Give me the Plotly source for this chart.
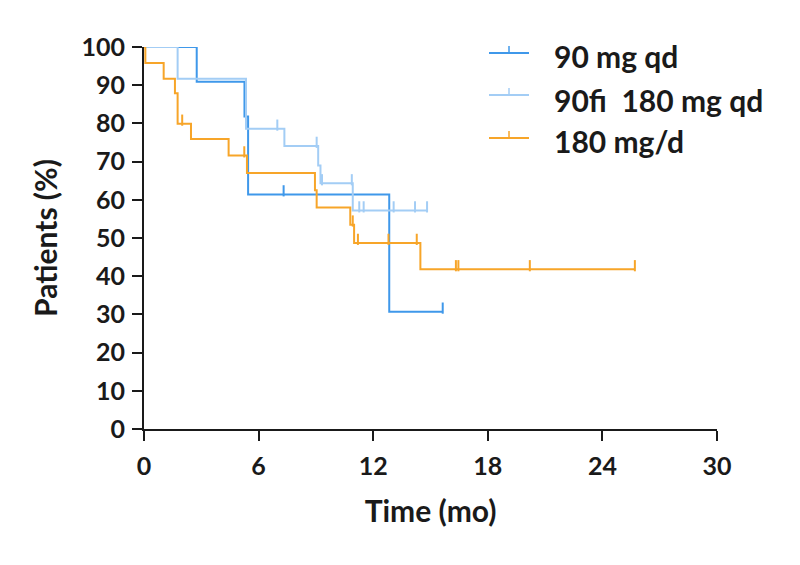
import plotly.graph_objects as go

# ---- data ----
series_names = ["90 mg qd", "90\ufb01  180 mg qd", "180 mg/d"]

t_90 = [0, 2.76, 5.26, 5.45, 12.84, 15.64]
s_90 = [100, 90.9, 81.8, 61.4, 30.7, 30.7]
c_90 = [0.72, 0.92, 1.58, 1.80, 7.31, 15.64]

t_90_180 = [0, 1.76, 5.34, 7.35, 9.12, 9.24, 10.93, 14.82]
s_90_180 = [100, 91.7, 78.6, 74.1, 69.0, 64.3, 57.2, 57.2]
c_90_180 = [6.98, 9.04, 9.32, 10.88, 11.27, 11.50, 13.07, 14.19, 14.82]

t_180 = [0, 0.07, 1.03, 1.62, 1.76, 2.46, 4.43, 5.39, 8.95, 9.04, 10.80, 11.00, 14.47, 25.70]
s_180 = [100, 95.8, 91.7, 87.9, 79.9, 75.9, 71.6, 67.0, 62.5, 58.0, 53.5, 48.7, 41.8, 41.8]
c_180 = [2.00, 5.25, 10.93, 11.20, 12.80, 14.28, 16.33, 16.46, 20.20, 25.70]

x_ticks = [0, 6, 12, 18, 24, 30]
y_ticks = [0, 10, 20, 30, 40, 50, 60, 70, 80, 90, 100]

colors = ["#3f98ea", "#a3cdf5", "#f7a529"]
FONT = "Lato"
TXT = "#1a1a1a"

# page offset of the figure inside the browser page (body margin)
OFF_X, OFF_Y = 7, 8
W, H = 800, 565
ML, MT = 143 - OFF_X, 47 - OFF_Y
PW, PH = 573, 382
MR, MB = W - ML - PW, H - MT - PH


def step_value(ts, ss, t):
    v = ss[0]
    for ti, si in zip(ts, ss):
        if ti <= t:
            v = si
    return v


def page_x(px):
    return (px - OFF_X - ML) / PW


def page_y(py):
    return (MT + PH - (py - OFF_Y)) / PH


fig = go.Figure()
TICK_OFF = 0.95  # lift censor ticks so they stand above the line

series = [
    (series_names[0], t_90, s_90, c_90, colors[0]),
    (series_names[1], t_90_180, s_90_180, c_90_180, colors[1]),
    (series_names[2], t_180, s_180, c_180, colors[2]),
]

for name, ts, ss, cs, col in series:
    fig.add_trace(go.Scatter(
        x=ts, y=ss, mode="lines", line=dict(color=col, width=2, shape="hv"),
        name=name, showlegend=False, cliponaxis=False, hoverinfo="skip"))
    fig.add_trace(go.Scatter(
        x=cs, y=[step_value(ts, ss, c) + TICK_OFF for c in cs], mode="markers",
        marker=dict(symbol="line-ns", size=8, line=dict(color=col, width=2)),
        showlegend=False, cliponaxis=False, hoverinfo="skip"))

# ---- hand-drawn legend (line sample + censor tick + label) ----
legend_line_y = [53, 95, 138]
legend_text_y = [56, 100, 141]
shapes = []
annotations = []
for (name, ts, ss, cs, col), ly, ty in zip(series, legend_line_y, legend_text_y):
    shapes.append(dict(type="line", xref="paper", yref="paper",
                       x0=page_x(488), x1=page_x(528),
                       y0=page_y(ly), y1=page_y(ly),
                       line=dict(color=col, width=2)))
    shapes.append(dict(type="line", xref="paper", yref="paper",
                       x0=page_x(508), x1=page_x(508),
                       y0=page_y(ly), y1=page_y(ly - 7),
                       line=dict(color=col, width=1.5)))
    annotations.append(dict(text=name, xref="paper", yref="paper",
                            x=page_x(551), y=page_y(ty),
                            xanchor="left", yanchor="middle", showarrow=False,
                            font=dict(family=FONT, size=30, color=TXT, weight="bold")))

fig.update_layout(
    width=W, height=H,
    margin=dict(l=ML, r=MR, t=MT, b=MB, autoexpand=False),
    paper_bgcolor="white", plot_bgcolor="white",
    font=dict(family=FONT, size=22, color=TXT),
    showlegend=False,
    shapes=shapes, annotations=annotations,
    xaxis=dict(range=[0, 30], tickvals=x_ticks, ticktext=[str(v) for v in x_ticks],
               showgrid=False, zeroline=False, showline=True, linecolor=TXT,
               linewidth=2, ticks="outside", ticklen=10, tickwidth=1.5,
               tickcolor=TXT, ticklabelstandoff=4,
               tickfont=dict(family=FONT, size=25, weight="bold"),
               title=dict(text="Time (mo)", standoff=22,
                          font=dict(family=FONT, size=30, weight="bold"))),
    yaxis=dict(range=[0, 100], tickvals=y_ticks, ticktext=[str(v) for v in y_ticks],
               showgrid=False, zeroline=False, showline=True, linecolor=TXT,
               linewidth=2, ticks="outside", ticklen=10, tickwidth=1.5,
               tickcolor=TXT, ticklabelstandoff=2,
               tickfont=dict(family=FONT, size=25, weight="bold"),
               title=dict(text="Patients (%)", standoff=15,
                          font=dict(family=FONT, size=30, weight="bold"))),
)

fig.write_html("out.html")
